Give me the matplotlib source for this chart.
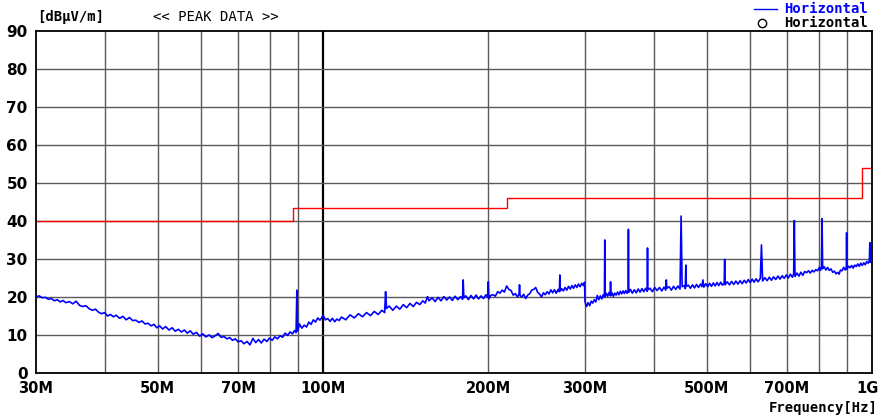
import matplotlib
matplotlib.use("Agg")
import matplotlib.pyplot as plt
import matplotlib.transforms as mtransforms
from matplotlib.ticker import NullLocator

# limit line (MHz edges, dBuV/m)
limit_edges = [30, 88, 216, 960, 1000]
limit_level = [40, 43.5, 46, 54]

# peak trace: (MHz, dBuV/m)
trace_30_100 = [
    (30, 20.0), (30.4, 20.3), (30.8, 19.8), (31.2, 19.9), (31.6, 19.4), (32, 19.6),
    (32.4, 19.0), (32.8, 19.3), (33.2, 18.7), (33.6, 19.1), (34, 18.5), (34.5, 18.8),
    (35, 18.2), (35.5, 18.9), (36, 17.8), (36.5, 17.5), (37, 17.7), (37.5, 16.9),
    (38, 16.5), (38.5, 16.8), (39, 16.0), (39.5, 15.6), (40, 15.9), (40.5, 15.0),
    (41, 15.4), (41.5, 14.8), (42, 15.2), (42.6, 14.4), (43.2, 14.9), (43.8, 14.0),
    (44.4, 14.6), (45, 13.8), (45.6, 13.9), (46.2, 13.3), (46.8, 13.7), (47.4, 12.9),
    (48, 13.1), (48.6, 12.4), (49.2, 12.8), (49.8, 11.9), (50.4, 12.4), (51, 11.6),
    (51.7, 12.2), (52.4, 11.3), (53.1, 11.9), (53.8, 11.0), (54.5, 11.5), (55.2, 10.8),
    (55.9, 11.3), (56.6, 10.5), (57.3, 11.1), (58, 10.2), (58.8, 10.7), (59.6, 9.7),
    (60.4, 10.3), (61.2, 9.5), (62, 10.0), (62.8, 9.3), (63.6, 9.8), (64.4, 10.4),
    (65.2, 9.4), (66, 9.6), (66.8, 9.0), (67.6, 9.3), (68.4, 8.6), (69.2, 9.0),
    (70, 8.2), (70.9, 8.5), (71.8, 7.7), (72.7, 8.3), (73.6, 7.4), (74.5, 9.1),
    (75.4, 8.0), (76.3, 8.8), (77.2, 7.9), (78.1, 8.9), (79, 8.3), (79.9, 9.2),
    (80.8, 8.6), (81.7, 9.5), (82.6, 9.0), (83.5, 9.8), (84.4, 9.4), (85.3, 10.5),
    (86.2, 9.9), (87.1, 10.8), (88, 10.3), (88.7, 11.2), (89.3, 10.6), (89.6, 21.8),
    (89.9, 11.0), (90.6, 12.9), (91.5, 11.8), (92.4, 12.6), (93.3, 12.1), (94.2, 13.4),
    (95.1, 12.8), (96, 14.0), (96.9, 13.4), (97.8, 14.5), (98.7, 13.9), (99.5, 14.6),
]
trace_100_300 = [
    (100, 15.2), (101, 14.0), (102, 14.3), (103, 13.6), (104, 14.4), (105, 13.5),
    (106, 14.2), (107, 13.8), (108, 14.7), (110, 14.0), (112, 15.3), (114, 14.5),
    (116, 15.6), (118, 14.8), (120, 15.9), (122, 15.1), (124, 16.2), (126, 15.4),
    (128, 16.5), (129.5, 15.9), (130, 21.4), (130.5, 17.0), (132, 17.6), (134, 16.5),
    (136, 17.6), (138, 16.8), (140, 18.0), (142, 17.2), (144, 18.3), (146, 17.5),
    (148, 18.6), (150, 18.0), (152, 19.0), (153.5, 18.4), (155, 20.1), (156, 19.0),
    (158, 19.8), (160, 18.8), (162, 19.9), (164, 19.0), (166, 20.1), (168, 19.2),
    (170, 20.0), (172, 19.1), (174, 20.2), (176, 19.3), (178, 20.1), (179.5, 19.4),
    (180, 24.5), (180.5, 19.8), (182, 20.3), (184, 19.3), (186, 20.4), (188, 19.5),
    (190, 20.5), (192, 19.5), (194, 20.3), (196, 19.6), (198, 20.6), (199.5, 19.9),
    (200, 24.0), (200.5, 19.5), (202, 20.4), (204, 20.6), (206, 20.2), (208, 21.4),
    (210, 21.0), (212, 21.8), (214, 21.3), (216, 22.9), (218, 22.0), (220, 21.7),
    (222, 20.5), (224, 20.9), (226, 20.0), (227.5, 20.8), (228, 23.2), (228.5, 20.4),
    (230, 20.0), (232, 20.7), (234, 19.6), (236, 20.5), (238, 20.9), (240, 21.8),
    (242, 22.0), (244, 22.5), (246, 21.2), (248, 20.8), (250, 20.0), (252, 21.1),
    (254, 20.6), (256, 21.4), (258, 20.8), (260, 21.9), (262, 21.1), (264, 21.9),
    (266, 21.0), (268, 22.0), (269.5, 21.4), (270, 25.8), (270.5, 21.6), (272, 22.2),
    (274, 21.6), (276, 22.5), (278, 21.8), (280, 22.8), (282, 22.1), (284, 23.0),
    (286, 22.3), (288, 23.2), (290, 22.5), (292, 23.4), (294, 22.7), (296, 23.6),
    (298, 23.0), (299.5, 23.9),
]
trace_300_1000 = [
    (300, 19.0), (301, 18.0), (302, 17.5), (304, 18.5), (306, 17.7), (308, 18.9),
    (310, 18.4), (312, 19.3), (314, 18.7), (316, 20.4), (318, 19.3), (320, 20.3),
    (322, 19.5), (324, 20.6), (325.5, 20.0), (326, 35.0), (326.5, 20.1), (328, 21.0),
    (330, 20.2), (332, 21.2), (333.5, 20.4), (334, 24.0), (334.5, 20.3), (336, 21.1),
    (338, 20.2), (340, 21.0), (342, 20.5), (344, 21.3), (346, 20.6), (348, 21.5),
    (350, 20.8), (352, 21.6), (354, 20.9), (356, 21.7), (358, 21.0), (359.5, 21.6),
    (360, 37.8), (360.5, 21.2), (363, 22.0), (366, 21.0), (369, 21.9), (372, 21.1),
    (375, 22.1), (378, 21.3), (381, 22.2), (384, 21.4), (387, 22.3), (389.5, 21.5),
    (390, 32.9), (390.5, 21.9), (394, 22.3), (398, 21.4), (402, 22.5), (406, 21.7),
    (410, 22.5), (414, 21.6), (418, 22.6), (421, 21.8), (422, 24.5), (423, 22.3),
    (427, 22.7), (431, 21.8), (435, 22.8), (439, 22.0), (443, 22.9), (447, 22.1),
    (449, 41.3), (451, 22.7), (455, 23.0), (457, 22.2), (458, 28.4), (459, 22.8),
    (463, 23.1), (467, 22.3), (471, 23.2), (475, 22.4), (479, 23.3), (483, 22.5),
    (487, 23.4), (490, 22.7), (492, 24.5), (494, 22.6), (498, 23.5), (502, 22.7),
    (506, 23.6), (510, 22.8), (514, 23.7), (518, 22.9), (522, 23.8), (526, 23.0),
    (530, 23.9), (534, 23.1), (538, 23.7), (539, 29.9), (540, 23.2), (545, 24.0),
    (550, 23.2), (555, 24.1), (560, 23.3), (565, 24.2), (570, 23.4), (575, 24.3),
    (580, 23.5), (585, 24.4), (590, 23.7), (595, 24.6), (600, 23.8), (605, 24.7),
    (610, 23.9), (615, 24.8), (620, 24.0), (626, 24.9), (629, 33.7), (632, 24.2),
    (638, 25.1), (644, 24.3), (650, 25.2), (656, 24.4), (662, 25.3), (668, 24.6),
    (674, 25.5), (680, 24.7), (686, 25.6), (692, 24.9), (698, 25.8), (704, 25.0),
    (710, 26.0), (716, 25.2), (720, 26.1), (722, 40.1), (724, 25.4), (730, 26.3),
    (736, 25.5), (742, 26.5), (748, 25.7), (754, 26.7), (760, 26.4), (766, 26.9),
    (772, 26.3), (778, 27.0), (784, 26.6), (790, 27.2), (796, 26.9), (802, 27.8),
    (806, 27.0), (809, 28.1), (811, 40.6), (813, 27.4), (818, 28.0), (824, 27.1),
    (830, 27.8), (836, 27.0), (842, 27.4), (848, 26.5), (854, 26.8), (860, 26.1),
    (866, 26.5), (871, 26.0), (876, 27.1), (882, 26.9), (888, 27.8), (894, 27.1),
    (898, 27.9), (899, 36.9), (900, 27.3), (906, 28.1), (912, 27.7), (918, 28.3),
    (924, 27.6), (930, 28.4), (936, 28.0), (942, 28.7), (948, 28.1), (954, 28.9),
    (960, 28.3), (966, 29.0), (972, 28.5), (978, 29.3), (984, 28.9), (989, 29.6),
    (991, 34.3), (993, 29.1), (996, 29.8), (1000, 29.4),
]

x_ticks = [30, 50, 70, 100, 200, 300, 500, 700, 1000]
x_tick_labels = ["30M", "50M", "70M", "100M", "200M", "300M", "500M", "700M", "1G"]
x_grid = [40, 50, 60, 70, 80, 90, 200, 300, 400, 500, 600, 700, 800, 900]
y_ticks = list(range(0, 91, 10))

W, H = 881, 417
fig = plt.figure(figsize=(W / 100, H / 100), dpi=100)
ax = fig.add_axes([36 / W, (H - 373) / H, 836 / W, 342 / H])

ax.set_xscale("log")
ax.set_xlim(30, 1000)
ax.set_ylim(0, 90)

for f in x_grid:
    ax.axvline(f, color="#5a5a5a", lw=1.0, zorder=1)
ax.axvline(100, color="black", lw=1.6, zorder=1)
for v in y_ticks[1:-1]:
    ax.axhline(v, color="#5a5a5a", lw=1.0, zorder=1)

ax.stairs(limit_level, limit_edges, baseline=None, color="red", lw=1.0, zorder=2)

trace = trace_30_100 + trace_100_300 + trace_300_1000
freq = [p[0] for p in trace]
level = [p[1] for p in trace]
ax.plot(freq, level, color="#0000ff", lw=1.2, zorder=3)

ax.set_xticks(x_ticks)
ax.set_xticklabels(x_tick_labels)
ax.xaxis.set_minor_locator(NullLocator())
ax.set_yticks(y_ticks)
ax.tick_params(axis="x", length=0, labelsize=10.5, pad=6)
ax.tick_params(axis="y", length=0, labelsize=11, pad=6)
for lab in ax.get_xticklabels() + ax.get_yticklabels():
    lab.set_fontweight("bold")
last = ax.get_xticklabels()[-1]
last.set_horizontalalignment("right")
last.set_transform(last.get_transform() +
                   mtransforms.ScaledTranslation(7 / 100, 0, fig.dpi_scale_trans))
for s in ax.spines.values():
    s.set_linewidth(1.3)
    s.set_color("black")

mono = "DejaVu Sans Mono"
fig.text(37 / W, 1 - 17 / H, "[dB\u03bcV/m]", family=mono, weight="bold",
         fontsize=10, va="center", ha="left")
fig.text(153 / W, 1 - 17 / H, "<< PEAK DATA >>", family=mono,
         fontsize=10, va="center", ha="left")
fig.text(878 / W, 1 - 408 / H, "Frequency[Hz]", family=mono, weight="bold",
         fontsize=10, va="center", ha="right")

# legend
fig.add_artist(plt.Line2D([754 / W, 777 / W], [1 - 9 / H, 1 - 9 / H],
                          color="#0000ff", lw=1.0))
fig.text(784 / W, 1 - 9 / H, "Horizontal", family=mono, weight="bold",
         color="#0000ff", fontsize=10, va="center", ha="left")
fig.add_artist(plt.Line2D([762 / W], [1 - 23 / H], marker="o", markersize=6,
                          markerfacecolor="white", markeredgecolor="black", lw=0))
fig.text(784 / W, 1 - 23 / H, "Horizontal", family=mono, weight="bold",
         color="black", fontsize=10, va="center", ha="left")

fig.savefig("out.png", dpi=100)
